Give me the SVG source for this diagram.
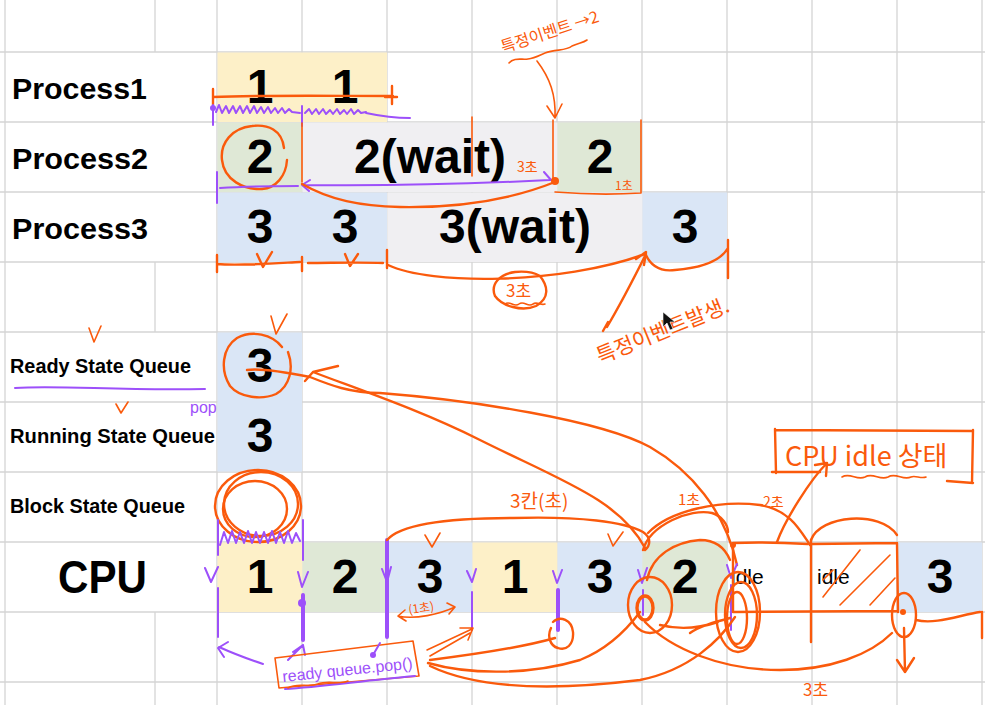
<svg xmlns="http://www.w3.org/2000/svg" width="985" height="705" viewBox="0 0 985 705">
  <style>
    .grid { stroke: #d4d4d4; stroke-width: 1.3; }
    .yel { fill: #fdf0c8; }
    .grn { fill: #dfe8d6; }
    .blu { fill: #dae6f6; }
    .gry { fill: #f0eff2; }
    .lbl { font-family: "Liberation Sans", Arial, sans-serif; font-weight: bold; fill: #000; }
    .num { font-family: "Liberation Sans", Arial, sans-serif; font-weight: bold; font-size: 48px; fill: #000; text-anchor: middle; }
    .idle { font-family: "Liberation Sans", Arial, sans-serif; font-size: 21px; fill: #000; }
    .o { fill: none; stroke: #fa5a0c; stroke-width: 2.4; stroke-linecap: round; stroke-linejoin: round; }
    .ot { fill: none; stroke: #fa5a0c; stroke-width: 1.6; stroke-linecap: round; stroke-linejoin: round; }
    .ob { fill: none; stroke: #fa5a0c; stroke-width: 3.4; stroke-linecap: round; stroke-linejoin: round; }
    .p { fill: none; stroke: #9d50fa; stroke-width: 2; stroke-linecap: round; stroke-linejoin: round; }
    .pb { fill: none; stroke: #9d50fa; stroke-width: 4; stroke-linecap: round; }
    .hk { font-family: "Noto Sans CJK KR", "Liberation Sans", sans-serif; fill: #fa5a0c; }
    .hp { font-family: "Liberation Sans", "Noto Sans", sans-serif; fill: #9d50fa; }
  </style>

  <rect width="985" height="705" fill="#ffffff"/>

  <!-- sheet grid -->
  <g id="grid" class="grid">
    <line x1="0" y1="52" x2="985" y2="52"/>
    <line x1="0" y1="122" x2="985" y2="122"/>
    <line x1="0" y1="192" x2="985" y2="192"/>
    <line x1="0" y1="262" x2="985" y2="262"/>
    <line x1="0" y1="332" x2="985" y2="332"/>
    <line x1="0" y1="402" x2="985" y2="402"/>
    <line x1="0" y1="472" x2="985" y2="472"/>
    <line x1="0" y1="542" x2="985" y2="542"/>
    <line x1="0" y1="612" x2="985" y2="612"/>
    <line x1="0" y1="682" x2="985" y2="682"/>
    <line x1="5" y1="0" x2="5" y2="705"/>
    <line x1="155" y1="0" x2="155" y2="52"/>
    <line x1="155" y1="262" x2="155" y2="332"/>
    <line x1="155" y1="612" x2="155" y2="705"/>
    <line x1="217" y1="0" x2="217" y2="705"/>
    <line x1="302" y1="0" x2="302" y2="705"/>
    <line x1="387" y1="0" x2="387" y2="705"/>
    <line x1="472" y1="0" x2="472" y2="705"/>
    <line x1="557" y1="0" x2="557" y2="705"/>
    <line x1="642" y1="0" x2="642" y2="705"/>
    <line x1="727" y1="0" x2="727" y2="705"/>
    <line x1="812" y1="0" x2="812" y2="705"/>
    <line x1="897" y1="0" x2="897" y2="705"/>
    <line x1="982" y1="0" x2="982" y2="705"/>
  </g>

  <!-- row labels -->
  <g id="labels" class="lbl">
    <text x="12" y="99" font-size="30" textLength="135" lengthAdjust="spacingAndGlyphs">Process1</text>
    <text x="12" y="169" font-size="30" textLength="136" lengthAdjust="spacingAndGlyphs">Process2</text>
    <text x="12" y="239" font-size="30" textLength="136" lengthAdjust="spacingAndGlyphs">Process3</text>
    <text x="10" y="373" font-size="19.5" textLength="181" lengthAdjust="spacingAndGlyphs">Ready State Queue</text>
    <text x="10" y="443" font-size="19.5" textLength="205" lengthAdjust="spacingAndGlyphs">Running State Queue</text>
    <text x="10" y="513" font-size="19.5" textLength="175" lengthAdjust="spacingAndGlyphs">Block State Queue</text>
    <text x="58" y="593" font-size="46" textLength="89" lengthAdjust="spacingAndGlyphs">CPU</text>
  </g>

  <!-- Process1 -->
  <g id="process1">
    <rect class="yel" x="217.5" y="52.5" width="169.5" height="69.5"/>
    <text class="num" x="260" y="103">1</text>
    <text class="num" x="345" y="103">1</text>
  </g>

  <!-- Process2 -->
  <g id="process2">
    <rect class="grn" x="217.5" y="122.5" width="85" height="69.5"/>
    <rect class="gry" x="302.5" y="122.5" width="255" height="69.5"/>
    <rect class="grn" x="557.5" y="122.5" width="84.5" height="69.5"/>
    <text class="num" x="260" y="173">2</text>
    <text class="num" x="430" y="173">2(wait)</text>
    <text class="num" x="600" y="173">2</text>
  </g>

  <!-- Process3 -->
  <g id="process3">
    <rect class="blu" x="217.5" y="192.5" width="169.5" height="69.5"/>
    <rect class="gry" x="387.5" y="192.5" width="255" height="69.5"/>
    <rect class="blu" x="642.5" y="192.5" width="84.5" height="69.5"/>
    <text class="num" x="260" y="243">3</text>
    <text class="num" x="345" y="243">3</text>
    <text class="num" x="515" y="243">3(wait)</text>
    <text class="num" x="685" y="243">3</text>
  </g>

  <!-- queues -->
  <g id="ready-queue">
    <rect class="blu" x="217.5" y="332.5" width="84.5" height="70"/>
    <text class="num" x="260" y="382">3</text>
  </g>
  <g id="running-queue">
    <rect class="blu" x="217.5" y="402" width="84.5" height="69.5"/>
    <text class="num" x="260" y="452">3</text>
  </g>
  <g id="block-queue"></g>

  <!-- CPU timeline -->
  <g id="cpu">
    <rect class="yel" x="217.5" y="542.5" width="85" height="69.5"/>
    <rect class="grn" x="302.5" y="542.5" width="85" height="69.5"/>
    <rect class="blu" x="387.5" y="542.5" width="85" height="69.5"/>
    <rect class="yel" x="472.5" y="542.5" width="85" height="69.5"/>
    <rect class="blu" x="557.5" y="542.5" width="85" height="69.5"/>
    <rect class="grn" x="642.5" y="542.5" width="84.5" height="69.5"/>
    <rect class="blu" x="897.5" y="542.5" width="84.5" height="69.5"/>
    <text class="num" x="260" y="593">1</text>
    <text class="num" x="345" y="593">2</text>
    <text class="num" x="430" y="593">3</text>
    <text class="num" x="515" y="593">1</text>
    <text class="num" x="600" y="593">3</text>
    <text class="num" x="685" y="593">2</text>
    <text class="idle" x="731" y="584">idle</text>
    <text class="idle" x="817" y="584">idle</text>
    <text class="num" x="940" y="593">3</text>
  </g>

  <!-- pen annotations -->
  <g id="connectors">
    <!-- Process1 span -->
    <path class="o" d="M213,89 L213,105 M213,97 C260,95 330,96 393,96 M392,86 L392,104 M385,97 L397,97"/>
    <circle cx="213" cy="108" r="3" fill="#9d50fa"/>
    <polyline class="p" points="216,112 219,105 222,113 226,106 229,113 233,106 236,113 240,106 243,113 247,106 250,113 254,106 257,113 261,107 264,113 268,107 271,113 275,108 278,113 282,108 285,113 289,109 292,112 300,113"/>
    <polyline class="p" points="305,113 309,109 312,114 316,109 319,114 323,109 326,114 330,110 333,114 337,109 340,114 344,110 347,114 351,109 354,114 358,110 361,113 366,112"/>
    <path class="p" d="M213,105 L213,125 M302,106 L302,126 M366,113 C380,116 395,118 410,118"/>

    <!-- Process2 -->
    <path class="o" d="M284,148 C282,130 268,124 252,126 C232,128 220,143 222,160 C224,180 244,190 262,189 C276,188 286,176 287,160"/>
    <path class="ot" d="M302,123 L302,182 M472,117 L472,176 M553,120 L553,182 M641,120 L641,193 M555,192 C580,194 610,195 641,193"/>
    <path class="p" d="M217,172 L217,203 M220,188 C250,186 280,186 298,186 M310,180 L302,185 L309,191 M302,185 C380,186 470,184 550,180 M544,172 L551,180"/>
    <path class="o" d="M302,184 C330,200 360,206 400,207 C460,208 510,200 555,182"/>
    <circle cx="555" cy="181" r="4" fill="#fa5a0c"/>
    <text class="hk" x="517" y="172" font-size="14">3초</text>
    <text class="hk" x="615" y="190" font-size="12">1초</text>

    <!-- event note over Process2 -->
    <text class="hk" x="503" y="53" font-size="16" transform="rotate(-18 503 53)">특정이벤트 →2</text>
    <path class="ot" d="M509,63 C514,57 522,60 528,59 C535,58 540,55 545,53 C556,49 566,51 572,46 C578,43 583,43 587,40"/>
    <path class="ot" d="M537,61 C550,78 556,95 555,118 M547,106 L555,118 L562,104"/>

    <!-- Process3 span -->
    <path class="o" d="M217,255 L217,272 M217,264 C240,266 280,263 300,262 M257,254 L263,267 L272,252 M302,257 L302,271 M308,263 C330,263 360,262 383,263 M345,254 L350,266 L358,254 M387,250 L387,268"/>
    <path class="o" d="M388,265 C430,285 560,285 645,254 M636,259 L646,252 L644,265"/>
    <path class="o" d="M645,253 C650,265 660,272 675,270 C700,268 720,262 728,248 M728,240 L728,278"/>
    <path class="o" d="M540,276 C548,286 550,298 536,306 C522,312 502,306 495,296 C490,284 500,274 515,272 C525,271 533,272 540,276"/>
    <text class="hk" x="506" y="297" font-size="17">3초</text>
    <path class="ot" d="M505,304 c5,-4 9,4 14,0 c5,-4 9,4 14,0 c4,-3 8,2 12,0"/>
    <path class="o" d="M607,327 C620,305 633,280 646,254 M603,331 L608,322"/>
    <text class="hk" x="600" y="364" font-size="21" transform="rotate(-22 600 364)">특정이벤트발생.</text>
    <polygon points="663,312 663,327 667,323 670,330 673,329 670,322 675,322" fill="#111" stroke="#fff" stroke-width="0.6"/>

    <!-- queue marks -->
    <path class="p" d="M15,388 C60,385 120,391 205,389"/>
    <path class="ot" d="M89,328 L94,342 L101,326 M116,404 L121,413 L128,402 M271,316 L276,334 L287,314"/>
    <text class="hp" x="190" y="413" font-size="16">pop</text>
    <path class="o" d="M282,347 C272,334 252,330 237,338 C222,348 220,370 230,386 C240,398 262,400 276,394 C290,386 294,368 288,352"/>
    <path class="o" d="M247,370 C260,368 285,372 310,377 C330,385 350,393 380,393 C470,400 600,420 650,447 C690,470 725,510 737,565"/>
    <path class="o" d="M338,366 L313,372 L305,381 M313,372 C360,390 420,410 480,440 C560,480 620,500 645,548"/>
    <ellipse class="o" cx="258" cy="506" rx="43" ry="36"/>
    <ellipse class="o" cx="261" cy="504" rx="37" ry="32"/>
    <ellipse class="o" cx="255" cy="509" rx="32" ry="28"/>
    <polyline class="p" points="220,545 224,532 228,543 232,531 236,543 240,532 244,543 248,531 252,543 256,532 260,543 264,532 268,543 272,531 276,543 280,532 284,543 288,531 292,543 296,533 300,541"/>
    <path class="p" d="M218,520 L218,555 M303,520 L303,560"/>

    <!-- CPU column marks -->
    <path class="p" d="M205,568 L211,582 L218,567 M218,588 L218,637 M298,572 L302,587 L308,572"/>
    <path class="pb" d="M303,595 L303,640"/>
    <circle cx="302" cy="603" r="4" fill="#9d50fa"/>
    <path class="p" d="M263,664 C245,658 230,652 219,647 M228,642 L218,648 L224,657 M288,660 L303,645 M293,652 L303,645 L305,655"/>
    <path class="pb" d="M387,540 L387,637" stroke-width="3.5"/>
    <path class="p" d="M382,569 L387,582 L391,567 M467,571 L472,582 L476,569 M472,592 L472,630 M553,571 L557,583 L562,570 M638,570 L642,583 L647,568 M643,590 L643,615 M727,565 L731,578 L737,564 M731,585 L731,630"/>
    <path class="pb" d="M558,590 L558,630" stroke-width="3"/>
    <path class="ot" d="M425,535 L432,547 L440,533 M608,534 L613,546 L623,532"/>

    <!-- ready queue pop note -->
    <path class="ot" d="M275,658 L413,641 L419,676 L279,688 Z"/>
    <text class="hp" x="283" y="682" font-size="16" transform="rotate(-6 283 682)">ready queue.pop()</text>
    <path class="p" d="M285,689 C320,687 360,681 415,676"/>
    <path class="ot" d="M288,688 c10,-6 20,0 30,-4 c10,-4 20,1 30,-3"/>
    <circle cx="373" cy="655" r="3" fill="#9d50fa"/>
    <path class="p" d="M373,655 L380,643"/>
    <text class="hk" x="409" y="614" font-size="12" transform="rotate(-8 409 614)">(1초)</text>
    <path class="ot" d="M398,616 C415,620 440,614 455,607 M405,610 L398,616 L406,621 M447,603 L455,607 L449,614"/>
    <path class="ot" d="M427,650 L472,629 M430,656 L470,633 M460,628 L473,628 L468,640"/>
    <path class="o" d="M430,660 C470,655 520,648 555,638 M553,622 C560,615 572,620 573,632 C574,645 566,651 558,648 C550,646 547,636 551,628"/>
    <path class="o" d="M428,663 C470,675 530,675 580,660 C605,650 625,632 640,612"/>
    <path class="o" d="M430,666 C480,690 560,690 640,680 C690,670 720,640 735,617"/>

    <!-- idle cells and time spans -->
    <path class="o" d="M733,543 L733,612 M733,543 C760,542 790,543 808,544 M811,540 L811,642 M812,544 L897,543 M897,543 L898,612 M733,612 L897,611"/>
    <circle cx="733" cy="545" r="3" fill="#fa5a0c"/>
    <path class="ot" d="M823,597 L860,550 M840,605 L890,555 M870,605 L895,578 M823,580 L833,570"/>
    <path class="o" d="M811,540 C820,515 880,510 897,535"/>
    <path class="o" d="M387,540 C400,525 440,518 513,518 C580,516 625,522 643,532 C652,538 650,546 645,550"/>
    <text class="hk" x="510" y="508" font-size="19">3칸(초)</text>
    <path class="o" d="M643,550 C650,525 690,508 712,513 C722,516 728,525 728,532"/>
    <path class="o" d="M647,580 C652,555 675,542 700,540 C715,540 725,548 730,560"/>
    <path class="o" d="M648,533 C670,510 720,500 760,505 C790,510 800,530 810,545"/>
    <text class="hk" x="678" y="505" font-size="15">1초</text>
    <text class="hk" x="763" y="507" font-size="14">2초</text>
    <path class="o" d="M777,542 C785,520 810,480 827,463 M815,465 L827,463 L826,476"/>

    <!-- stacked rings at switch points -->
    <ellipse class="ob" cx="645" cy="608" rx="8" ry="12"/>
    <ellipse class="o" cx="650" cy="605" rx="22" ry="28"/>
    <ellipse class="o" cx="738" cy="612" rx="22" ry="40"/>
    <ellipse class="o" cx="741" cy="615" rx="16" ry="33"/>
    <ellipse class="o" cx="737" cy="618" rx="10" ry="26"/>
    <path class="o" d="M660,625 C680,630 700,628 718,622 M690,633 C700,626 715,622 730,618"/>
    <path class="o" d="M645,622 C670,648 720,670 780,670 C830,670 870,655 892,633"/>
    <text class="hk" x="803" y="696" font-size="17">3초</text>
    <ellipse class="o" cx="904" cy="615" rx="12" ry="22"/>
    <circle cx="903" cy="612" r="3" fill="#fa5a0c"/>
    <path class="o" d="M904,628 L905,672 M897,660 L905,672 L914,658 M916,620 C935,625 960,615 980,612 M982,612 L982,638"/>

    <!-- CPU idle note -->
    <path class="o" d="M775,430 L973,431 M775,429 L776,473 M772,472 L820,472 M973,430 L972,483 M947,481 L973,483"/>
    <text class="hk" x="785" y="466" font-size="27">CPU idle 상태</text>
    <path class="ot" d="M842,477 c8,-5 15,4 23,0 c8,-5 15,4 23,0 c8,-5 15,4 23,0 c4,-2 10,2 15,0"/>
  </g>
</svg>
